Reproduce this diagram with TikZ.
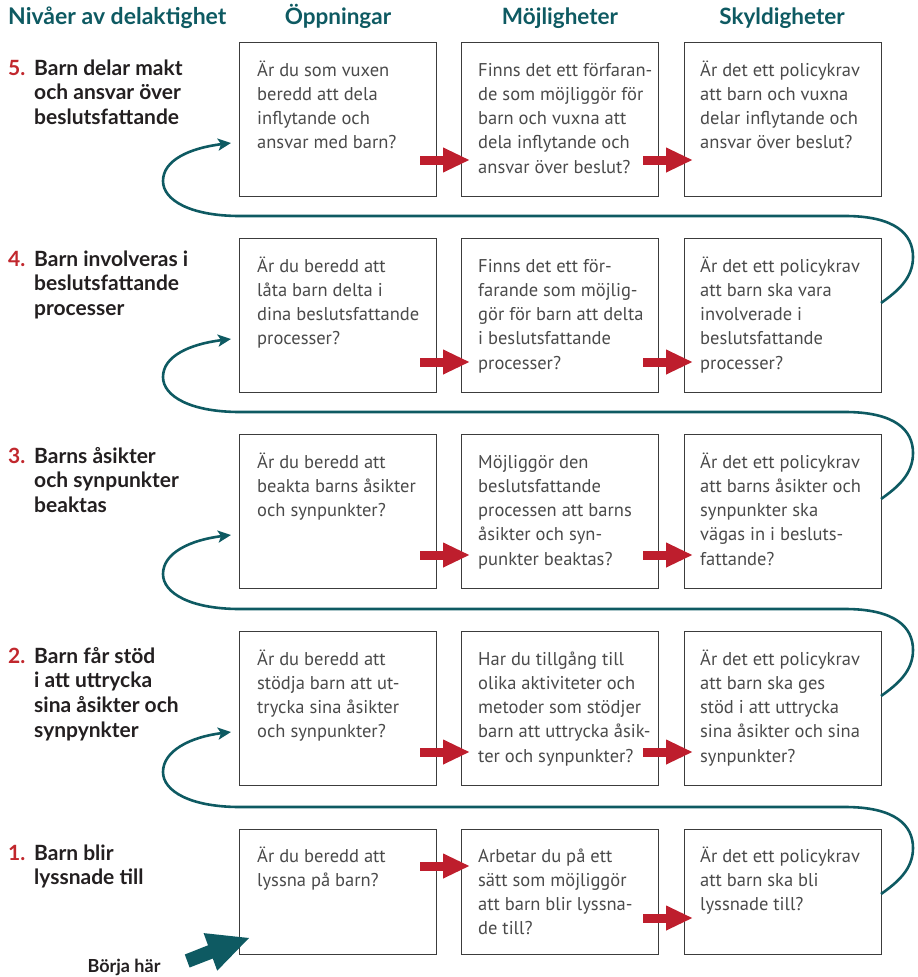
\documentclass[tikz,border=0pt]{standalone}
\usepackage{fontspec}
\setmainfont{PT Sans}
\newfontfamily\labfont{Lato}
\usetikzlibrary{arrows.meta}
\definecolor{tealc}{HTML}{0E5A62}
\definecolor{redc}{HTML}{BE1E2D}
\definecolor{numc}{HTML}{C1272D}
\definecolor{txtc}{HTML}{4A4A4A}
\definecolor{labc}{HTML}{231F20}
\definecolor{boxc}{HTML}{3C3C3C}
\newcommand\pbt[1]{\parbox[t]{220pt}{\raggedright #1}}
\tikzset{
  qbox/.style={draw=boxc, line width=1.3pt, anchor=north west, minimum width=197pt, minimum height=154pt, inner sep=0pt},
  qtext/.style={anchor=base west, inner sep=0pt, text=txtc, font=\fontsize{18.5}{24.3}\selectfont},
  lvl/.style={anchor=base west, inner sep=0pt, text=labc, font=\labfont\bfseries\fontsize{21}{24.8}\selectfont},
  lvlnum/.style={anchor=base west, inner sep=0pt, text=numc, font=\labfont\bfseries\fontsize{21}{24.8}\selectfont},
  head/.style={anchor=base, inner sep=0pt, text=tealc, font=\labfont\bfseries\fontsize{22.5}{26}\selectfont},
  redarr/.style={draw=redc, line width=9pt, -{Triangle[length=27pt,width=23pt]}},
  flow/.style={draw=tealc, line width=2.6pt, -{Stealth[length=13pt,width=12pt,inset=3pt]}}
}
\begin{document}
\begin{tikzpicture}[x=1pt,y=-1pt]
\useasboundingbox (0,0) rectangle (918,977);
% headers
\node[head, anchor=base west, font=\labfont\bfseries\fontsize{23}{26}\selectfont] (h0) at (8,24) {Nivåer av delaktighet};
\node[head] (h1) at (338,24) {Öppningar};
\node[head] (h2) at (560,24) {Möjligheter};
\node[head] (h3) at (782,24) {Skyldigheter};
% boxes
\foreach \r/\T in {5/42,4/238,3/434,2/631}{
  \node[qbox] (b\r1) at (239,\T) {};
  \node[qbox] (b\r2) at (461,\T) {};
  \node[qbox] (b\r3) at (684,\T) {};
}
\node[qbox, minimum height=125pt] (b11) at (239,829) {};
\node[qbox, minimum height=125pt] (b12) at (461,829) {};
\node[qbox, minimum height=125pt] (b13) at (684,829) {};
% level labels
\node[lvlnum] (n5) at (8,75) {5.};
\node[lvl] (l5) at (34,75) {\pbt{Barn delar makt\\och ansvar över\\beslutsfattande}};
\node[lvlnum] (n4) at (8,266) {4.};
\node[lvl] (l4) at (34,266) {\pbt{Barn involveras i\\beslutsfattande\\processer}};
\node[lvlnum] (n3) at (8,463) {3.};
\node[lvl] (l3) at (34,463) {\pbt{Barns åsikter\\och synpunkter\\beaktas}};
\node[lvlnum] (n2) at (8,663) {2.};
\node[lvl] (l2) at (34,663) {\pbt{Barn får stöd\\i att uttrycka\\sina åsikter och\\synpynkter}};
\node[lvlnum] (n1) at (8,860) {1.};
\node[lvl] (l1) at (34,860) {\pbt{Barn blir\\lyssnade till}};
% box texts
\node[qtext] (t51) at (257,76) {\pbt{Är du som vuxen\\beredd att dela\\inflytande och\\ansvar med barn?}};
\node[qtext] (t52) at (478,76) {\pbt{Finns det ett förfaran-\\de som möjliggör för\\barn och vuxna att\\dela inflytande och\\ansvar över beslut?}};
\node[qtext] (t53) at (700,76) {\pbt{Är det ett policykrav\\att barn och vuxna\\delar inflytande och\\ansvar över beslut?}};
\node[qtext] (t41) at (257,272) {\pbt{Är du beredd att\\låta barn delta i\\dina beslutsfattande\\processer?}};
\node[qtext] (t42) at (478,272) {\pbt{Finns det ett för-\\farande som möjlig-\\gör för barn att delta\\i beslutsfattande\\processer?}};
\node[qtext] (t43) at (700,272) {\pbt{Är det ett policykrav\\att barn ska vara\\involverade i\\beslutsfattande\\processer?}};
\node[qtext] (t31) at (257,468) {\pbt{Är du beredd att\\beakta barns åsikter\\och synpunkter?}};
\node[qtext] (t32) at (478,468) {\pbt{Möjliggör den\\beslutsfattande\\processen att barns\\åsikter och syn-\\punkter beaktas?}};
\node[qtext] (t33) at (700,468) {\pbt{Är det ett policykrav\\att barns åsikter och\\synpunkter ska\\vägas in i besluts-\\fattande?}};
\node[qtext] (t21) at (257,665) {\pbt{Är du beredd att\\stödja barn att ut-\\trycka sina åsikter\\och synpunkter?}};
\node[qtext] (t22) at (478,665) {\pbt{Har du tillgång till\\olika aktiviteter och\\metoder som stödjer\\barn att uttrycka åsik-\\ter och synpunkter?}};
\node[qtext] (t23) at (700,665) {\pbt{Är det ett policykrav\\att barn ska ges\\stöd i att uttrycka\\sina åsikter och sina\\synpunkter?}};
\node[qtext] (t11) at (257,862) {\pbt{Är du beredd att\\lyssna på barn?}};
\node[qtext] (t12) at (478,862) {\pbt{Arbetar du på ett\\sätt som möjliggör\\att barn blir lyssna-\\de till?}};
\node[qtext] (t13) at (700,862) {\pbt{Är det ett policykrav\\att barn ska bli\\lyssnade till?}};
% red arrows
\foreach \r/\ya/\yb in {5/160/160,4/362/362,3/555/555,2/752/752,1/866/918}{
  \coordinate (ra\r) at (420,\ya);
  \coordinate (rb\r) at (470,\ya);
  \coordinate (rc\r) at (643,\yb);
  \coordinate (rd\r) at (693,\yb);
  \draw[redarr] (ra\r) -- (rb\r);
  \draw[redarr] (rc\r) -- (rd\r);
}
% teal flow connectors
\foreach \L/\U in {238/42,434/238,631/434,829/631}{
  \coordinate (fs) at (881,{\L+65});
  \coordinate (fe) at (231,{\U+101});
  \draw[flow] (fs) .. controls (898,{\L+53}) and (913,{\L+40}) .. (913,{\L+19})
     .. controls (913,{\L-4}) and (895,{\L-22}) .. (845,{\L-22})
     -- (240,{\L-22})
     .. controls (190,{\L-22}) and (163,{\L-38}) .. (163,{\L-57})
     .. controls (163,{\L-78}) and (190,{\U+106}) .. (fe);
}
% start arrow
\fill[tealc] (249,938) -- (203.6,933.1) -- (208.0,945.3) -- (184.8,954.5) -- (189.6,967.5) -- (212.8,958.5) -- (217.2,970.7) -- cycle;
\node[anchor=base, inner sep=0pt, text=labc, font=\labfont\bfseries\fontsize{18}{20}\selectfont] (start) at (124,972) {Börja här};
\end{tikzpicture}
\end{document}
